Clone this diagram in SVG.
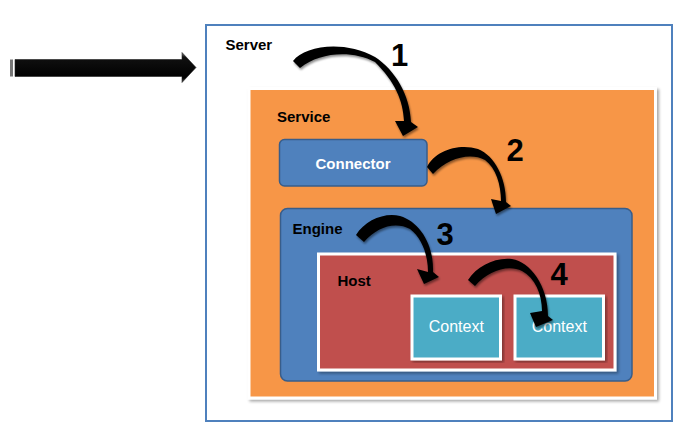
<svg xmlns="http://www.w3.org/2000/svg" width="679" height="436" viewBox="0 0 679 436">
<style>
.lbl{font-family:"Liberation Sans",Arial,sans-serif;font-weight:bold;font-size:15px;fill:#000}
.wlbl{font-family:"Liberation Sans",Arial,sans-serif;font-weight:bold;font-size:15px;fill:#fff}
.ctx{font-family:"Liberation Sans",Arial,sans-serif;font-size:16px;fill:#fff}
.num{font-family:"Liberation Sans",Arial,sans-serif;font-weight:bold;font-size:31px;fill:#000}
.carrow{fill:#000;filter:url(#sh)}
</style>
<defs>
<filter id="sh" x="-20%" y="-20%" width="150%" height="150%">
<feGaussianBlur in="SourceAlpha" stdDeviation="1.2"/>
<feOffset dx="1" dy="1.5" result="b"/>
<feComponentTransfer><feFuncA type="linear" slope="0.45"/></feComponentTransfer>
<feMerge><feMergeNode/><feMergeNode in="SourceGraphic"/></feMerge>
</filter>
<filter id="boxsh" x="-5%" y="-5%" width="110%" height="110%">
<feGaussianBlur in="SourceAlpha" stdDeviation="1.5"/>
<feOffset dx="1.5" dy="1.5"/>
<feComponentTransfer><feFuncA type="linear" slope="0.35"/></feComponentTransfer>
<feMerge><feMergeNode/><feMergeNode in="SourceGraphic"/></feMerge>
</filter>
<linearGradient id="bar" x1="0" y1="0" x2="0" y2="1">
<stop offset="0" stop-color="#8a8a8a"/>
<stop offset="0.15" stop-color="#111"/>
<stop offset="0.85" stop-color="#000"/>
<stop offset="1" stop-color="#555"/>
</linearGradient>
</defs>

<g id="server">
<rect x="206" y="25" width="466" height="396" fill="#fff" stroke="#4F81BD" stroke-width="2"/>
<text class="lbl" x="225.5" y="50">Server</text>
</g>

<g id="service">
<rect x="249" y="88.5" width="406.5" height="309.5" fill="#F79646" stroke="#fff" stroke-width="3" filter="url(#boxsh)"/>
<text class="lbl" x="277" y="122">Service</text>
</g>

<g id="connector">
<rect x="279.5" y="139.5" width="147.5" height="46.5" rx="5" fill="#4F81BD" stroke="#385D8A" stroke-width="1.5"/>
<text class="wlbl" x="353" y="169" text-anchor="middle">Connector</text>
</g>

<g id="engine">
<rect x="280.5" y="208.5" width="351.5" height="172.5" rx="7" fill="#4F81BD" stroke="#385D8A" stroke-width="1.5"/>
<text class="lbl" x="292.5" y="234">Engine</text>
</g>

<g id="host">
<rect x="318.5" y="254" width="296.5" height="116" fill="#C0504D" stroke="#fff" stroke-width="3" filter="url(#boxsh)"/>
<text class="lbl" x="337.5" y="285.5">Host</text>
</g>

<g id="context1">
<rect x="412" y="296" width="88.5" height="63" fill="#4BACC6" stroke="#fff" stroke-width="3" filter="url(#boxsh)"/>
<text class="ctx" x="456.3" y="332" text-anchor="middle">Context</text>
</g>

<g id="context2">
<rect x="515" y="296" width="88.5" height="63" fill="#4BACC6" stroke="#fff" stroke-width="3" filter="url(#boxsh)"/>
<text class="ctx" x="559.3" y="332" text-anchor="middle">Context</text>
</g>

<g id="connectors">
<g id="input-arrow">
<rect x="10" y="59.5" width="3" height="17" fill="#777"/>
<path d="M15,59.5 L182,59.5 L182,52.5 L196,67.5 L182,82.5 L182,76.5 L15,76.5 Z" fill="url(#bar)" stroke="#222" stroke-width="0.6"/>
</g>
<path class="carrow" d="M293,61 C305,45 345,40 375,57 C395,70 410,95 411,122 L418,127 L403,136 L395,121 L404,121 C403,100 395,82 375,62 C352,50 320,52 300,68 Z"/>
<path class="carrow" d="M427,167 C435,150 460,143 478,149 C495,156 506,178 506,202 L511,206 L496,214 L491,199 L501,201 C501,185 496,168 485,160 C470,152 448,158 433,174 Z"/>
<path class="carrow" d="M356,235 C365,220 385,212 400,216 C420,222 434,245 433,272 L439,277 L424,284 L417,269 L428,272 C428,255 422,238 410,229 C395,221 377,227 364,242 Z"/>
<path class="carrow" d="M468,280 C477,266 495,257 512,259 C530,262 548,285 548,316 L553,320 L536,327 L530,313 L542,311 C542,294 535,278 522,271 C508,264 488,271 475,286 Z"/>
</g>

<g id="numbers">
<text class="num" x="399.5" y="65.5" text-anchor="middle">1</text>
<text class="num" x="515" y="161" text-anchor="middle">2</text>
<text class="num" x="445" y="245" text-anchor="middle">3</text>
<text class="num" x="559" y="285" text-anchor="middle">4</text>
</g>
</svg>
